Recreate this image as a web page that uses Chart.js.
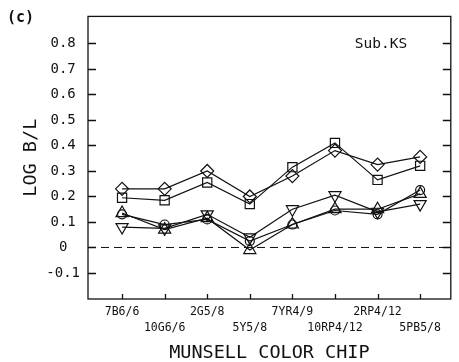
<!DOCTYPE html>
<html>
<head>
<meta charset="utf-8">
<script src="https://cdn.jsdelivr.net/npm/chart.js@4/dist/chart.umd.min.js"></script>
<style>
html,body{margin:0;padding:0;background:#fff;}
#wrap{width:459px;height:362px;position:relative;}
</style>
</head>
<body>
<div id="wrap"><canvas id="c" width="459" height="362"></canvas></div>
<script>
const categories = ['7B6/6','10G6/6','2G5/8','5Y5/8','7YR4/9','10RP4/12','2RP4/12','5PB5/8'];
const yTicks = [-0.1, 0, 0.1, 0.2, 0.3, 0.4, 0.5, 0.6, 0.7, 0.8];
const diamondSeries  = [0.23, 0.23, 0.30, 0.20, 0.28, 0.38, 0.325, 0.355];
const squareSeries   = [0.195, 0.185, 0.255, 0.17, 0.315, 0.41, 0.265, 0.32];
const triUpSeries    = [0.135, 0.07, 0.115, -0.01, 0.09, 0.15, 0.15, 0.21];
const triDownSeries  = [0.08, 0.075, 0.13, 0.04, 0.15, 0.205, 0.14, 0.17];
const circleSeries   = [0.13, 0.09, 0.11, 0.025, 0.09, 0.145, 0.13, 0.225];
const panelLabel = '(c)';
const subjectLabel = 'Sub.KS';
const yTitle = 'LOG B/L';
const xTitle = 'MUNSELL COLOR CHIP';

const MONO = '"DejaVu Sans Mono", "Liberation Mono", monospace';
const INK = '#111';

function series(vals, style, r, rot) {
  return {
    data: vals.map((v, i) => ({x: i, y: v})),
    borderColor: INK,
    borderWidth: 1.2,
    pointStyle: style,
    pointRadius: r,
    pointRotation: rot || 0,
    pointBorderColor: INK,
    pointBorderWidth: 1.2,
    pointBackgroundColor: 'rgba(0,0,0,0)',
    tension: 0,
    fill: false
  };
}

const framePlugin = {
  id: 'frame',
  afterDraw(chart) {
    const {ctx, chartArea: a, scales} = chart;
    const ys = scales.y, xs = scales.x;
    ctx.save();
    ctx.setLineDash([]);
    ctx.strokeStyle = INK;
    ctx.lineWidth = 1.3;
    ctx.strokeRect(a.left, a.top, a.right - a.left, a.bottom - a.top);
    ctx.beginPath();
    for (let k = 0; k < yTicks.length; k++) {
      const p = Math.round(ys.getPixelForValue(yTicks[k])) + 0.5;
      ctx.moveTo(a.left, p); ctx.lineTo(a.left + 8, p);
      ctx.moveTo(a.right - 8, p); ctx.lineTo(a.right, p);
    }
    for (let i = 0; i < categories.length; i++) {
      const p = Math.round(xs.getPixelForValue(i)) + 0.5;
      ctx.moveTo(p, a.bottom); ctx.lineTo(p, a.bottom - 5);
    }
    ctx.stroke();
    // zero line
    const z = ys.getPixelForValue(0);
    ctx.beginPath();
    ctx.setLineDash([8, 5]);
    ctx.lineWidth = 1;
    ctx.moveTo(a.left, z); ctx.lineTo(a.right, z);
    ctx.stroke();
    ctx.setLineDash([]);
    // texts
    ctx.fillStyle = INK;
    ctx.textBaseline = 'middle';
    ctx.textAlign = 'left';
    ctx.font = 'bold 15px ' + MONO;
    ctx.fillText(panelLabel, 7, 18);
    ctx.font = '14.5px ' + MONO;
    ctx.textAlign = 'center';
    ctx.fillText(subjectLabel, 381, 44);
    ctx.restore();
  }
};

new Chart(document.getElementById('c'), {
  type: 'line',
  data: {
    datasets: [
      series(diamondSeries, 'rectRot', 6.5),
      series(squareSeries, 'rect', 6.5),
      series(triUpSeries, 'triangle', 7),
      series(triDownSeries, 'triangle', 7, 180),
      series(circleSeries, 'circle', 4.5)
    ]
  },
  options: {
    responsive: false,
    animation: false,
    devicePixelRatio: 1,
    layout: {padding: {top: 16, right: 4, left: 0, bottom: 0}},
    plugins: {legend: {display: false}, tooltip: {enabled: false}},
    scales: {
      x: {
        type: 'linear',
        min: -0.8,
        max: 7.72,
        afterBuildTicks(s) { s.ticks = categories.map((c, i) => ({value: i})); },
        afterFit(s) { s.height = 63; },
        grid: {display: false, drawTicks: false},
        border: {display: false},
        ticks: {
          autoSkip: false,
          maxRotation: 0,
          padding: 5,
          color: INK,
          font: {family: MONO, size: 11.5, lineHeight: 1.4},
          callback: (v, i) => (i % 2 === 0 ? [categories[i], ''] : ['', categories[i]])
        },
        title: {
          display: true,
          text: xTitle,
          color: INK,
          font: {family: MONO, size: 18.5, lineHeight: 1},
          padding: 0
        }
      },
      y: {
        type: 'linear',
        min: -0.202,
        max: 0.906,
        afterBuildTicks(s) { s.ticks = yTicks.map(v => ({value: v})); },
        afterFit(s) { s.width = 88; },
        grid: {display: false, drawTicks: false},
        border: {display: false},
        ticks: {
          crossAlign: 'center',
          padding: 8,
          color: INK,
          font: {family: MONO, size: 14},
          callback: v => (Math.abs(v) < 1e-9 ? '0' : v.toFixed(1))
        },
        title: {
          display: true,
          text: yTitle,
          color: INK,
          font: {family: MONO, size: 18.5, lineHeight: 1},
          padding: {top: 22, bottom: 0}
        }
      }
    }
  },
  plugins: [framePlugin]
});
</script>
</body>
</html>
